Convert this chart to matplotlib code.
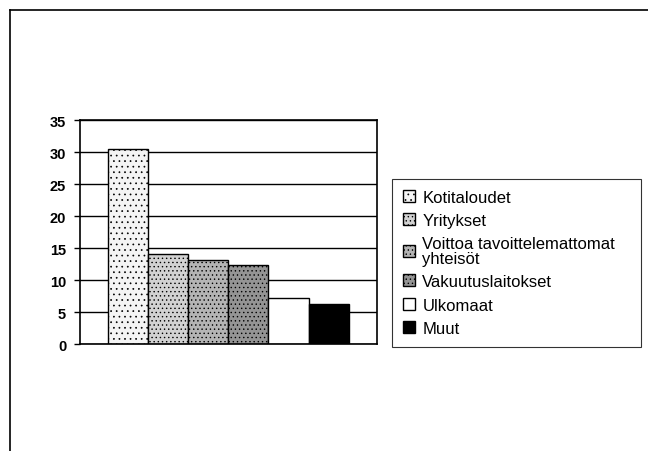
import matplotlib
matplotlib.use("Agg")
import matplotlib.pyplot as plt
from matplotlib.lines import Line2D

plt.rcParams['font.family'] = ['Liberation Sans Narrow', 'Liberation Sans', 'DejaVu Sans']
plt.rcParams['hatch.linewidth'] = 0.5

########################################
#   Data
########################################

labels = ["Kotitaloudet", "Yritykset", "Voittoa tavoittelemattomat\nyhteisöt",
          "Vakuutuslaitokset", "Ulkomaat", "Muut"]
values = [30.5, 14.0, 13.1, 12.4, 7.2, 6.3]
faces = ["#f4f4f4", "#d2d2d2", "#b4b4b4", "#949494", "white", "black"]
hatches = ["...", "....", "....", "....", None, None]
yticks = [0, 5, 10, 15, 20, 25, 30, 35]

fig = plt.figure(figsize=(6.48, 4.52), dpi=100)
ax = fig.add_axes([0.1235, 0.2367, 0.4578, 0.4956])

# page frame (top and left only, like the scan)
fig.add_artist(Line2D([10 / 648, 1.0], [1 - 11 / 452, 1 - 11 / 452], color="black", lw=1.2))
fig.add_artist(Line2D([10 / 648, 10 / 648], [1 - 11 / 452, 0.0], color="black", lw=1.2))

# Grid
ax.set_axisbelow(True)
ax.yaxis.grid(True, color="black", linewidth=1.0)

# Bars
n = len(values)
for i in range(n):
    x = i - (n - 1) / 2
    ax.bar(x, values[i], width=1.0, color=faces[i], hatch=hatches[i],
           edgecolor="black", linewidth=1.0, label=labels[i], zorder=2)

ax.set_xlim(-3.7, 3.7)
ax.set_ylim(0, 35)
ax.set_yticks(yticks)
ax.set_yticklabels([str(t) for t in yticks], fontsize=10.5, fontweight="bold")
ax.set_xticks([])
ax.tick_params(axis="y", direction="out", length=4, width=1, pad=6)
for s in ax.spines.values():
    s.set_linewidth(1.2)
    s.set_color("black")

leg = fig.legend(loc="upper left",
                 bbox_to_anchor=(392 / 648, 1 - 348 / 452, 249 / 648, 168 / 452),
                 mode="expand", fontsize=12, frameon=True, fancybox=False,
                 edgecolor="black", handlelength=0.72, handleheight=0.72,
                 handletextpad=0.45, labelspacing=0.5, borderpad=0.65, borderaxespad=0)
leg.get_frame().set_linewidth(0.8)
for t in leg.get_texts():
    t.set_linespacing(0.95)

plt.savefig("out.png", dpi=100)
